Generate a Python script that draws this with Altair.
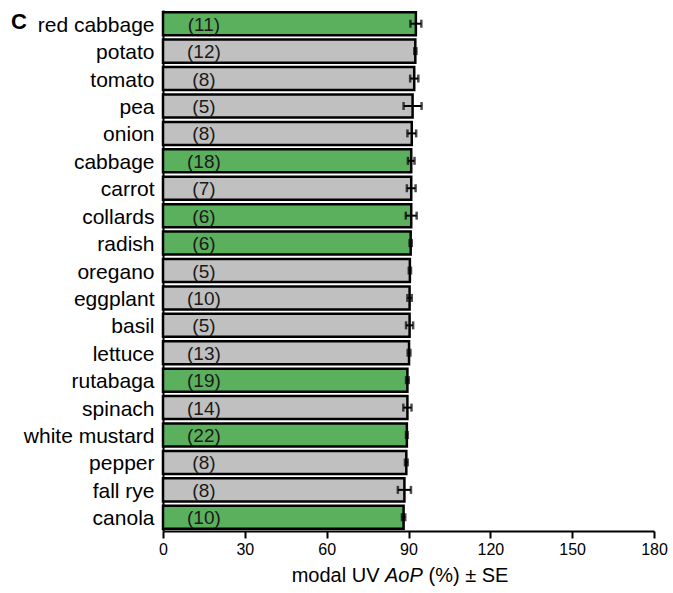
import altair as alt
import pandas as pd

# Crops, ordered top to bottom
crops = ["red cabbage", "potato", "tomato", "pea", "onion", "cabbage", "carrot",
         "collards", "radish", "oregano", "eggplant", "basil", "lettuce", "rutabaga",
         "spinach", "white mustard", "pepper", "fall rye", "canola"]
# Modal UV angle of polarization (%)
aop = [92.7, 92.5, 92.1, 91.5, 91.2, 91.0, 91.0, 91.0, 90.8, 90.5, 90.4, 90.4,
       90.2, 89.6, 89.6, 89.4, 89.2, 88.5, 88.2]
# Standard error
se = [2.0, 0.4, 1.5, 3.3, 1.6, 1.2, 1.6, 2.0, 0.4, 0.4, 0.8, 1.3, 0.5, 0.5,
      1.5, 0.3, 0.5, 2.4, 0.6]
# Sample sizes
n = [11, 12, 8, 5, 8, 18, 7, 6, 6, 5, 10, 5, 13, 19, 14, 22, 8, 8, 10]
# Brassicaceae crops are highlighted in green
brassica = [True, False, False, False, False, True, False, True, True, False,
            False, False, False, True, False, True, False, False, True]

x_ticks = [0, 30, 60, 90, 120, 150, 180]

df = pd.DataFrame({"crop": crops, "aop": aop, "se": se, "n": n, "brassica": brassica})
df["lo"] = df["aop"] - df["se"]
df["hi"] = df["aop"] + df["se"]
df["n_label"] = "(" + df["n"].astype(str) + ")"
df["group"] = df["brassica"].map({True: "Brassicaceae", False: "other"})
df["label_x"] = 15

FONT = "Liberation Sans"

y_enc = alt.Y("crop:N", sort=crops,
              scale=alt.Scale(paddingInner=0.16, paddingOuter=0.08),
              axis=alt.Axis(title=None, ticks=False, labelFontSize=21, labelFont=FONT,
                            labelColor="black", labelPadding=9, domainColor="black",
                            domainWidth=2, labelLimit=300, labelBaseline="alphabetic",
                            labelOffset=8))
x_scale = alt.Scale(domain=[0, 180], nice=False)

base = alt.Chart(df)

bars = base.mark_bar(stroke="black", strokeWidth=2.5).encode(
    x=alt.X("aop:Q", scale=x_scale,
            axis=alt.Axis(title=None, values=x_ticks, grid=False, labelFontSize=16,
                          labelFont=FONT, labelColor="black", domainColor="black",
                          domainWidth=2, tickColor="black", tickWidth=2, tickSize=7,
                          labelPadding=3, labelFlush=False)),
    y=y_enc,
    color=alt.Color("group:N",
                    scale=alt.Scale(domain=["Brassicaceae", "other"],
                                    range=["#5bb05e", "#c0c0c0"]),
                    legend=None),
)

err = base.mark_rule(color="black", strokeWidth=2).encode(
    x=alt.X("lo:Q", scale=x_scale), x2="hi:Q", y=alt.Y("crop:N", sort=crops))
cap_lo = base.mark_tick(color="black", thickness=2.5, size=8).encode(
    x=alt.X("lo:Q", scale=x_scale), y=alt.Y("crop:N", sort=crops))
cap_hi = base.mark_tick(color="black", thickness=2.5, size=8).encode(
    x=alt.X("hi:Q", scale=x_scale), y=alt.Y("crop:N", sort=crops))

counts = base.mark_text(font=FONT, fontSize=19, color="#1a1a1a", align="center",
                        baseline="alphabetic", dy=7).encode(
    x=alt.X("label_x:Q", scale=x_scale), y=alt.Y("crop:N", sort=crops),
    text="n_label:N")

# Axis title with italic AoP, assembled from three pieces
title_y = 571.5
t1 = alt.Chart(pd.DataFrame({"t": ["modal UV"]})).mark_text(
    font=FONT, fontSize=20, color="black", align="right", baseline="alphabetic").encode(
    x=alt.value(216.5), y=alt.value(title_y), text="t:N")
t2 = alt.Chart(pd.DataFrame({"t": ["AoP"]})).mark_text(
    font=FONT, fontSize=20, fontStyle="italic", color="black", align="left",
    baseline="alphabetic").encode(x=alt.value(222), y=alt.value(title_y), text="t:N")
t3 = alt.Chart(pd.DataFrame({"t": ["(%) ± SE"]})).mark_text(
    font=FONT, fontSize=20, color="black", align="left", baseline="alphabetic").encode(
    x=alt.value(265.5), y=alt.value(title_y), text="t:N")

panel = alt.Chart(pd.DataFrame({"t": ["C"]})).mark_text(
    font=FONT, fontSize=22, fontWeight="bold", color="black", align="left",
    baseline="alphabetic").encode(x=alt.value(-152), y=alt.value(18.5), text="t:N")

chart = alt.layer(bars, err, cap_lo, cap_hi, counts, t1, t2, t3, panel).properties(
    width=491, height=521,
    autosize=alt.AutoSizeParams(type="none"),
    padding={"left": 163, "top": 10, "right": 19, "bottom": 62},
).configure(background="white").configure_view(stroke=None)

chart.save("out.html", embed_options={"renderer": "svg", "actions": False})
